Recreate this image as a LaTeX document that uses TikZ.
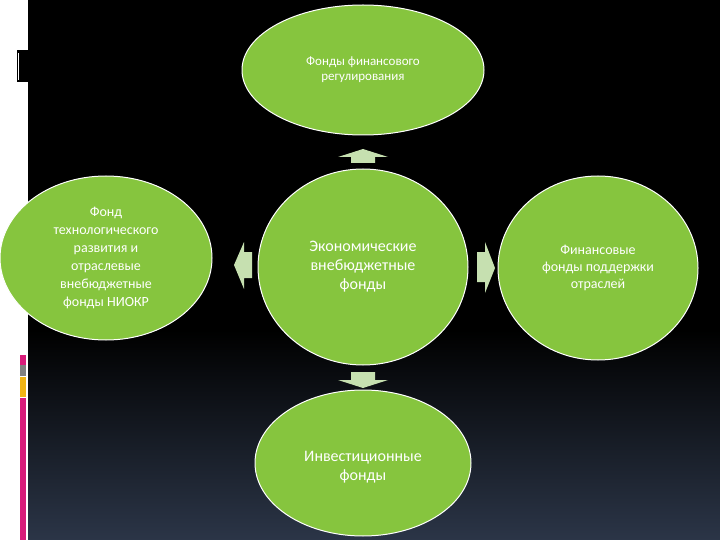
\documentclass[tikz,border=0pt]{standalone}
\usetikzlibrary{shapes.geometric}
\usepackage{fontspec}
\setmainfont{Carlito}
\definecolor{gr}{HTML}{86C53E}
\definecolor{pg}{HTML}{C6E0B0}
\definecolor{bot}{HTML}{2B3547}
\definecolor{pk}{HTML}{D81B7A}
\definecolor{yl}{HTML}{F0B414}
\begin{document}
\begin{tikzpicture}[x=1pt,y=-1pt,
  blob/.style={ellipse,draw=white,line width=1pt,fill=gr,text=white,align=center,font=\fontsize{13}{15}\selectfont},
  arr/.style={fill=pg,draw=none}]
\useasboundingbox (0,0) rectangle (720,540);
\fill[white] (0,0) rectangle (28,540);
\shade[top color=black,bottom color=bot] (28,330) rectangle (720,540);
\fill[black] (28,0) rectangle (720,331);
\fill[black] (17,50) rectangle (28,82);
\fill[white] (18,53) rectangle (19,80);
\fill[pk] (20,355) rectangle (26,365);
\fill[gray] (20,365) rectangle (26,376);
\fill[yl] (20,377) rectangle (26,397);
\fill[pk] (20,398) rectangle (26,540);
\node[blob,minimum width=242pt,minimum height=130pt,inner sep=0pt] (top) at (363,70) {Фонды финансового\\регулирования};
\node[blob,minimum width=210pt,minimum height=196pt,inner sep=0pt,font=\fontsize{16}{19}\selectfont] (c) at (363,267) {Экономические\\внебюджетные\\фонды};
\node[blob,minimum width=216pt,minimum height=146pt,inner sep=0pt,font=\fontsize{16}{19}\selectfont] (b) at (363,463) {\\Инвестиционные\\фонды};
\node[blob,minimum width=212pt,minimum height=164pt,inner sep=0pt,font=\fontsize{14}{18}\selectfont] (l) at (106,258) {Фонд\\технологического\\развития и\\отраслевые\\внебюджетные\\фонды НИОКР};
\node[blob,minimum width=200pt,minimum height=184pt,inner sep=0pt,font=\fontsize{14}{17}\selectfont] (r) at (598,268) {Финансовые\\фонды поддержки\\отраслей};
\fill[arr] (351,163) -- (351,157) -- (338,157) -- (363,149) -- (388,157) -- (375,157) -- (375,163) -- cycle;
\fill[arr] (351,372) -- (351,380) -- (338,380) -- (363,388) -- (388,380) -- (375,380) -- (375,372) -- cycle;
\fill[arr] (252,252) -- (244,252) -- (244,242) -- (234,265) -- (244,289) -- (244,278) -- (252,278) -- cycle;
\fill[arr] (477,252) -- (485,252) -- (485,242) -- (495,268) -- (485,293) -- (485,282) -- (477,282) -- cycle;
\end{tikzpicture}
\end{document}
